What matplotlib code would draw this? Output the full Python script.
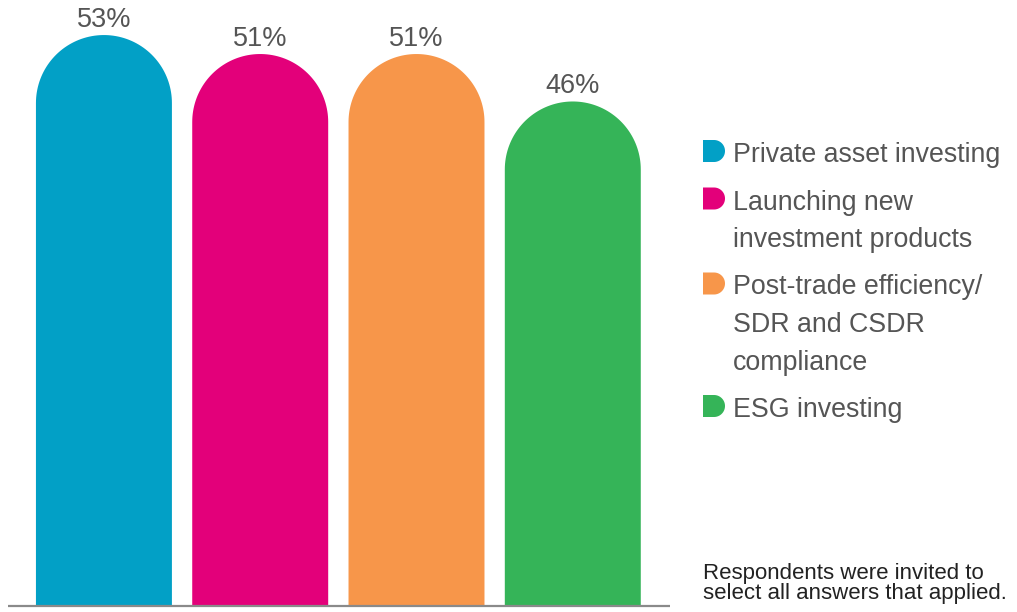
import numpy as np
import matplotlib.pyplot as plt
from matplotlib.patches import Polygon

plt.rcParams['font.family'] = ['Liberation Sans', 'DejaVu Sans']

categories = ['Private asset investing', 'Launching new\ninvestment products',
              'Post-trade efficiency/\nSDR and CSDR\ncompliance', 'ESG investing']
values = [53, 51, 51, 46]
labels = ['53%', '51%', '51%', '46%']
colors = ['#02A0C6', '#E3007A', '#F7964A', '#35B458']
note = 'Respondents were invited to\nselect all answers that applied.'

W, H = 1017, 612
fig = plt.figure(figsize=(W / 100, H / 100), dpi=100)

# bar area in pixels: x 5..670, baseline at y=606
ax = fig.add_axes([5 / W, 6 / H, 665 / W, 606 / H])
x_left, x_right = -0.633, 4.255 - 0.633
y_top = 606 / 9.49
ax.set_xlim(x_left, x_right)
ax.set_ylim(0, y_top)
ax.axis('off')

bar_w = 0.87
px_per_x = 665 / (x_right - x_left)
px_per_y = 606 / y_top
rx = bar_w / 2
ry = rx * px_per_x / px_per_y

theta = np.linspace(0, np.pi, 80)
for i, (v, c, lab) in enumerate(zip(values, colors, labels)):
    cap = np.column_stack([i + rx * np.cos(theta), v + ry * np.sin(theta)])
    pts = np.vstack([[i + rx, 0], cap, [i - rx, 0]])
    ax.add_patch(Polygon(pts, closed=True, facecolor=c, edgecolor='none'))
    ax.text(i, v + ry + 2 / px_per_y, lab, ha='center', va='bottom',
            fontsize=19.5, color='#555555')

ax.plot([x_left + 3 / px_per_x, x_right], [0, 0], color='#8a8a8a', lw=1.6,
        solid_capstyle='butt', clip_on=False)

# legend and note drawn in figure pixels
ov = fig.add_axes([0, 0, 1, 1])
ov.set_xlim(0, W)
ov.set_ylim(H, 0)
ov.axis('off')

line_h = 37.5
y = 162
t = np.linspace(np.pi / 2, -np.pi / 2, 40)
for cat, c in zip(categories, colors):
    # D-shaped marker: flat left side, round right side
    mx = np.concatenate([[703], 714 + 11 * np.cos(t), [703]])
    my = np.concatenate([[y - 22], y - 11 - 11 * np.sin(t), [y]])
    ov.add_patch(Polygon(np.column_stack([mx, my]), closed=True,
                         facecolor=c, edgecolor='none'))
    for k, line in enumerate(cat.split('\n')):
        ov.text(733, y + k * line_h, line, ha='left', va='baseline',
                fontsize=19.3, color='#555555')
    y += line_h * (cat.count('\n') + 1) + 10

ov.text(703, 604, note, ha='left', va='bottom', fontsize=16.0,
        linespacing=0.95, color='#222222')

fig.savefig('out.png', dpi=100)
